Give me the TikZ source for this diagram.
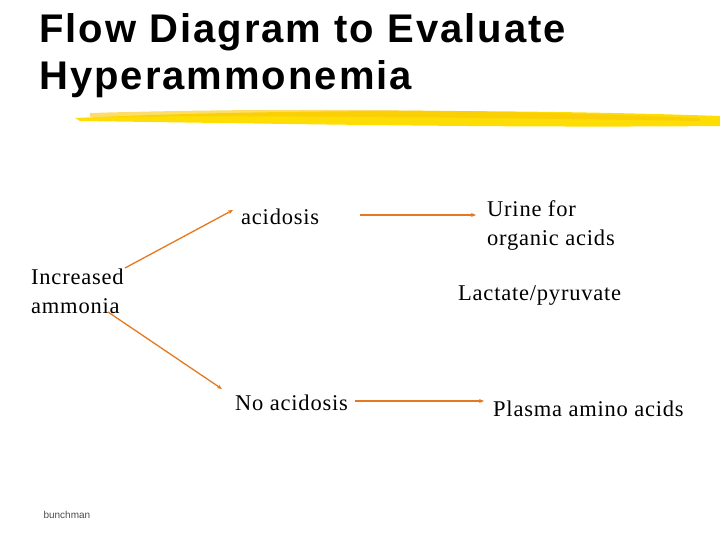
\documentclass[tikz,border=0pt]{standalone}
\usepackage{fontspec}
\setmainfont{Liberation Serif}[LetterSpace=3.5]
\setsansfont{Liberation Sans}
\newfontfamily\titlefont{Liberation Sans}[LetterSpace=5]
\usetikzlibrary{arrows.meta}
\begin{document}
\begin{tikzpicture}[x=1pt,y=-1pt,
 lbl/.style={font=\fontsize{22.5}{29}\selectfont,align=left,inner sep=0pt},
 arr/.style={draw={rgb,255:red,230;green,120;blue,30},line width=1.3pt,-{Stealth[length=5pt,width=4pt]}}]
\useasboundingbox (0,0) rectangle (720,540);
\node[anchor=north west,font=\titlefont\bfseries\fontsize{40}{47}\selectfont,align=left,inner sep=0pt] (title) at (39,13) {Flow Diagram to Evaluate\\Hyperammonemia};
\fill[yellow!80!orange] (75,118) .. controls (300,108) and (550,110) .. (720,116) -- (720,126) .. controls (500,128) and (300,124) .. (80,121) -- cycle;
\fill[yellow!60!orange,opacity=0.6] (90,113) .. controls (300,107) and (500,110) .. (700,118) -- (700,121) .. controls (500,118) and (300,115) .. (90,117) -- cycle;
\node[lbl,anchor=west] (inc) at (31,291) {Increased\\ammonia};
\node[lbl,anchor=west] (acid) at (241,217) {acidosis};
\node[lbl,anchor=west] (noacid) at (235,403) {No acidosis};
\node[lbl,anchor=west] (urine) at (487,226) {Urine for\\organic acids};
\node[lbl,anchor=west] (lact) at (458,296) {Lactate/pyruvate};
\node[lbl,anchor=west] (plasma) at (493,409) {Plasma amino acids};
\node[anchor=west,font=\sffamily\fontsize{10}{12}\selectfont,text=black!70] (bn) at (40,515) {bunchman};
\coordinate (a1) at (125,268); \coordinate (a2) at (233,210);
\coordinate (b1) at (108,312); \coordinate (b2) at (222,389);
\coordinate (c1) at (360,215); \coordinate (c2) at (476,215);
\coordinate (d1) at (355,401); \coordinate (d2) at (484,401);
\draw[arr] (a1) -- (a2);
\draw[arr] (b1) -- (b2);
\draw[arr] (c1) -- (c2);
\draw[arr] (d1) -- (d2);
\end{tikzpicture}
\end{document}
